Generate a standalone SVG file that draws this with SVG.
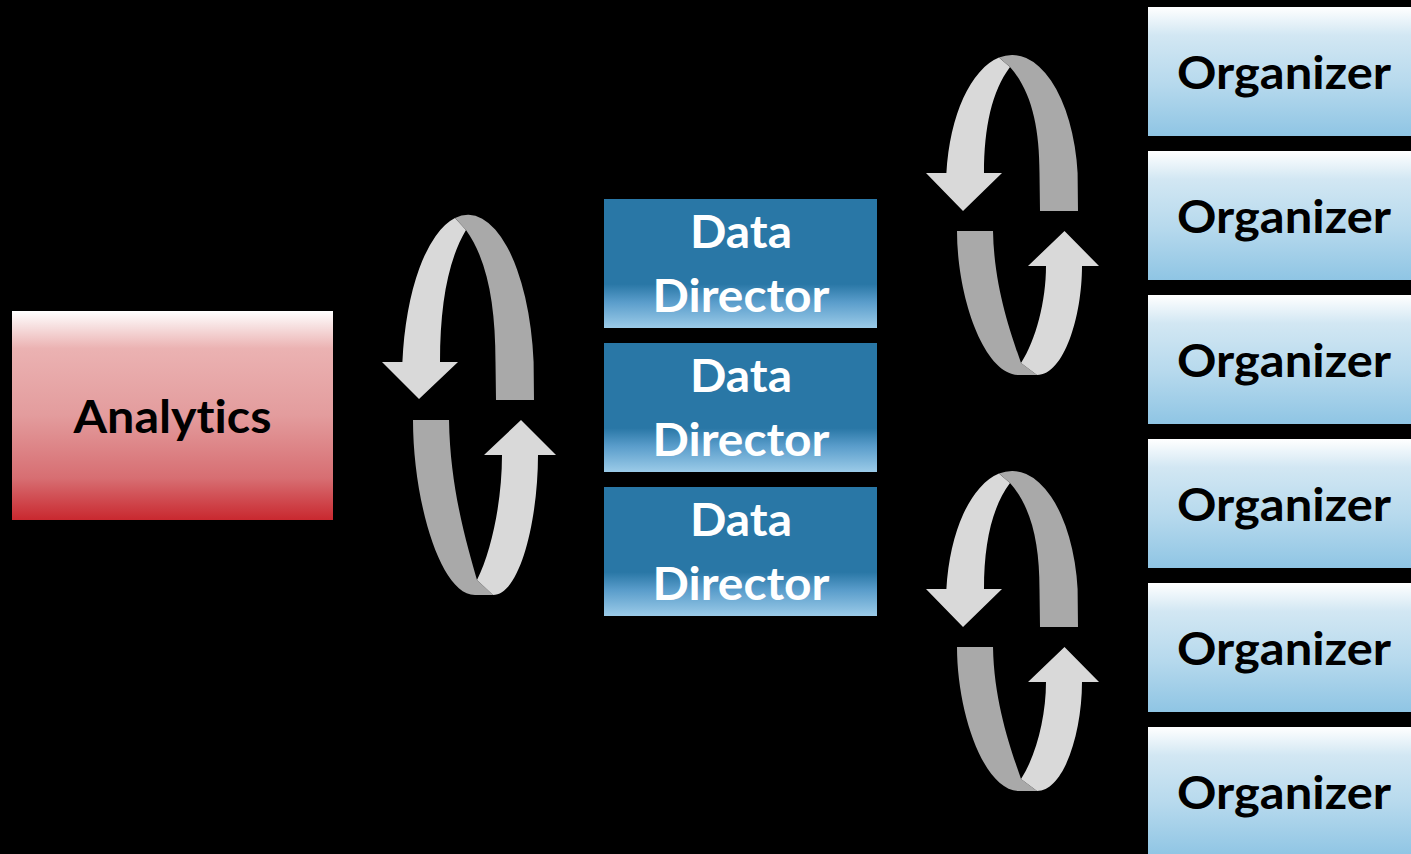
<svg xmlns="http://www.w3.org/2000/svg" xmlns:xlink="http://www.w3.org/1999/xlink" width="1411" height="854" viewBox="0 0 1411 854">
  <defs>
    <linearGradient id="gradRed" x1="0" y1="0" x2="0" y2="1">
      <stop offset="0" stop-color="#ffffff"/>
      <stop offset="0.18" stop-color="#ebb2b2"/>
      <stop offset="0.5" stop-color="#e39c9d"/>
      <stop offset="0.8" stop-color="#d76e72"/>
      <stop offset="1" stop-color="#c9282f"/>
    </linearGradient>
    <linearGradient id="gradDirector" x1="0" y1="0" x2="0" y2="1">
      <stop offset="0" stop-color="#2977a6"/>
      <stop offset="0.66" stop-color="#2977a6"/>
      <stop offset="0.8" stop-color="#5a9dcb"/>
      <stop offset="1" stop-color="#9bcbe8"/>
    </linearGradient>
    <linearGradient id="gradOrganizer" x1="0" y1="0" x2="0" y2="1">
      <stop offset="0" stop-color="#ffffff"/>
      <stop offset="0.22" stop-color="#d2e7f3"/>
      <stop offset="0.6" stop-color="#b6d9ed"/>
      <stop offset="1" stop-color="#8fc5e4"/>
    </linearGradient>
    <style>
      .lbl { font-family: Lato, "Open Sans", "Liberation Sans", sans-serif; font-weight: bold; font-size: 46px; text-anchor: middle; font-variant-ligatures: none; font-feature-settings: "liga" 0; }
      .dark-lbl { fill: #000000; }
      .light-lbl { fill: #ffffff; }
      .lt { fill: #d9d9d9; }
      .dk { fill: #a9a9a9; }
      .analytics { fill: url(#gradRed); }
      .director { fill: url(#gradDirector); }
      .organizer { fill: url(#gradOrganizer); }
    </style>
    <!-- cycle arrow used on the right side (two copies) -->
    <g id="cycleRight">
      <path class="lt" d="M 999,57.6 A 66 132.4 0 0 0 946.4,173 L 926,173 L 963,211 L 1002,173 L 984,173 C 984,127.2 992,91.1 1010,67 Z"/>
      <path class="dk" d="M 999,57.6 A 66 132.4 0 0 1 1077.6,173 L 1078,211 L 1040,211 L 1039.5,173 C 1039.5,127.2 1031.5,91.1 1010,67 Z"/>
      <path class="dk" d="M 957,231 C 957,296.8 984,375 1019,375 L 1037,375 L 1021,363 C 1012,336.3 994,288.6 993,231 Z"/>
      <path class="lt" d="M 1021,363 L 1037,375 C 1064,375 1082,316.6 1082,266 L 1099,266 L 1064.5,231 L 1028,266 L 1046,266 C 1046,301 1036,340 1021,363 Z"/>
    </g>
  </defs>

  <rect x="0" y="0" width="1411" height="854" fill="#000000"/>

  <!-- connectors: cycle arrows -->
  <g id="connectors">
    <g id="cycle-analytics-director">
      <path class="lt" d="M 455,218 A 66 165 0 0 0 402.4,362 L 382,362 L 419,399 L 458,362 L 440,362 C 440,305 448,260 466,230 Z"/>
      <path class="dk" d="M 455,218 A 66 165 0 0 1 533.6,362 L 534,400 L 496,400 L 495.5,362 C 495.5,305 487.5,260 466,230 Z"/>
      <path class="dk" d="M 413,420 C 413,500 440,595 475,595 L 493,595 L 477,580 C 468,548 450,490 449,420 Z"/>
      <path class="lt" d="M 477,580 L 493,595 C 520,595 538,520 538,455 L 556,455 L 521,420 L 484,455 L 502,455 C 502,500 492,550 477,580 Z"/>
    </g>
    <use id="cycle-director-organizer-top" xlink:href="#cycleRight"/>
    <use id="cycle-director-organizer-bottom" xlink:href="#cycleRight" transform="translate(0,416)"/>
  </g>

  <g id="analytics">
    <rect class="analytics" x="12" y="311" width="321" height="209"/>
    <text class="lbl dark-lbl" x="172.5" y="433" textLength="198" lengthAdjust="spacingAndGlyphs">Analytics</text>
  </g>

  <g id="director-1">
    <rect class="director" x="604" y="199" width="273" height="129"/>
    <text class="lbl light-lbl" x="741" y="248" textLength="102" lengthAdjust="spacingAndGlyphs">Data</text>
    <text class="lbl light-lbl" x="741" y="312" textLength="177" lengthAdjust="spacingAndGlyphs">Director</text>
  </g>
  <g id="director-2">
    <rect class="director" x="604" y="343" width="273" height="129"/>
    <text class="lbl light-lbl" x="741" y="392" textLength="102" lengthAdjust="spacingAndGlyphs">Data</text>
    <text class="lbl light-lbl" x="741" y="456" textLength="177" lengthAdjust="spacingAndGlyphs">Director</text>
  </g>
  <g id="director-3">
    <rect class="director" x="604" y="487" width="273" height="129"/>
    <text class="lbl light-lbl" x="741" y="536" textLength="102" lengthAdjust="spacingAndGlyphs">Data</text>
    <text class="lbl light-lbl" x="741" y="600" textLength="177" lengthAdjust="spacingAndGlyphs">Director</text>
  </g>

  <g id="organizer-1">
    <rect class="organizer" x="1148" y="7" width="272" height="129"/>
    <text class="lbl dark-lbl" x="1284" y="89" textLength="214" lengthAdjust="spacingAndGlyphs">Organizer</text>
  </g>
  <g id="organizer-2">
    <rect class="organizer" x="1148" y="151" width="272" height="129"/>
    <text class="lbl dark-lbl" x="1284" y="233" textLength="214" lengthAdjust="spacingAndGlyphs">Organizer</text>
  </g>
  <g id="organizer-3">
    <rect class="organizer" x="1148" y="295" width="272" height="129"/>
    <text class="lbl dark-lbl" x="1284" y="377" textLength="214" lengthAdjust="spacingAndGlyphs">Organizer</text>
  </g>
  <g id="organizer-4">
    <rect class="organizer" x="1148" y="439" width="272" height="129"/>
    <text class="lbl dark-lbl" x="1284" y="521" textLength="214" lengthAdjust="spacingAndGlyphs">Organizer</text>
  </g>
  <g id="organizer-5">
    <rect class="organizer" x="1148" y="583" width="272" height="129"/>
    <text class="lbl dark-lbl" x="1284" y="665" textLength="214" lengthAdjust="spacingAndGlyphs">Organizer</text>
  </g>
  <g id="organizer-6">
    <rect class="organizer" x="1148" y="727" width="272" height="129"/>
    <text class="lbl dark-lbl" x="1284" y="809" textLength="214" lengthAdjust="spacingAndGlyphs">Organizer</text>
  </g>
</svg>
